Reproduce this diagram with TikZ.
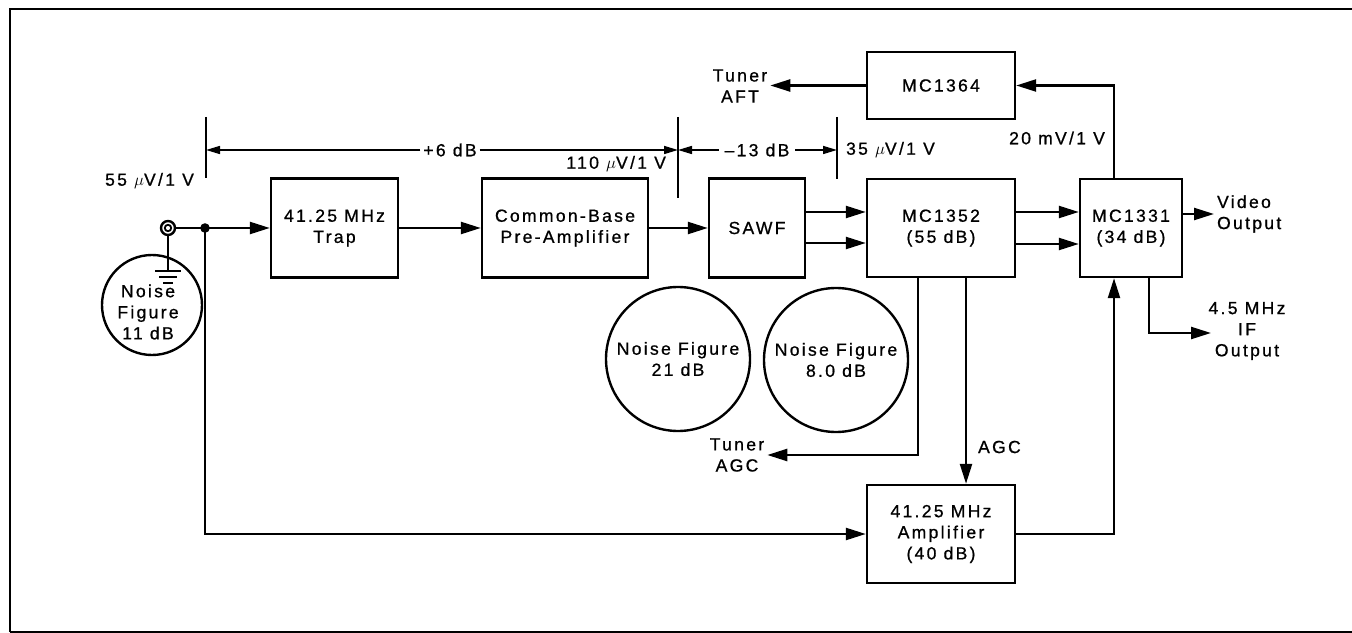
\documentclass[tikz,border=0pt]{standalone}
\usepackage{fontspec}
\setmainfont[LetterSpace=13, FakeBold=0.8]{Liberation Sans}
\usepackage{tikz}
\usetikzlibrary{arrows.meta}

\begin{document}
\begin{tikzpicture}[x=0.25mm, y=-0.25mm,
        font=\fontsize{12.5}{15}\selectfont,
        block/.style={draw, line width=1.7pt, align=center, inner sep=0pt},
        nfcircle/.style={draw, circle, line width=1.7pt, minimum size=36mm, align=center, inner sep=0pt},
        wire/.style={line width=1.7pt},
        sig/.style={line width=1.7pt, -{Triangle[length=5mm, width=3mm]}},
        dim/.style={line width=1.1pt, -{Triangle[length=3.5mm, width=2mm]}},
        dimtick/.style={line width=1.3pt},
        lbl/.style={align=center, inner sep=2pt}]
        \useasboundingbox (0,0) rectangle (1352,633);

        % we draw the frame
        \draw[line width=1.7pt] (10,632) -- (10,9) -- (1352,9);
        \draw[line width=0.8pt] (10,632) -- (1352,632);

        % we draw the blocks
        \node[block, minimum width=31.75mm, minimum height=24.75mm] (trap) at (334.5,228) {41.25 MHz\\Trap};
        \node[block, minimum width=41.5mm, minimum height=24.75mm] (preamp) at (565,228) {Common-Base\\Pre-Amplifier};
        \node[block, minimum width=24mm, minimum height=24.75mm] (sawf) at (757,228) {SAWF};
        \node[block, minimum width=37mm, minimum height=24.5mm] (mcA) at (941,228) {MC1352\\(55 dB)};
        \node[block, minimum width=25.5mm, minimum height=24.5mm] (mcB) at (1131,228) {MC1331\\(34 dB)};
        \node[block, minimum width=37mm, minimum height=16.75mm] (mcC) at (941,85.5) {MC1364};
        \node[block, minimum width=37mm, minimum height=24.5mm] (amp) at (941,534) {41.25 MHz\\Amplifier\\(40 dB)};

        % we draw the noise figures
        \node[nfcircle, minimum size=25mm] (nf11) at (152,305) {};
        \node[lbl] (nf11t) at (148,312) {Noise\\Figure\\11 dB};
        \node[nfcircle] (nf21) at (678,359) {Noise Figure\\21 dB};
        \node[nfcircle] (nf8) at (836,360) {Noise Figure\\8.0 dB};

        % we draw the input jack and its ground
        \node[draw, circle, line width=1.7pt, minimum size=3.5mm, inner sep=0pt] (jack) at (168,228) {};
        \draw[line width=1.3pt] (jack.center) circle[radius=0.8mm];
        \node[circle, fill, inner sep=0pt, minimum size=2.4mm] (jn) at (205,228) {};
        \coordinate (gnd) at (168,271);
        \draw[wire] (jack) -- (gnd);
        \draw[wire] ([shift={(-13,0)}]gnd) -- ([shift={(13,0)}]gnd);
        \draw[wire] ([shift={(-9,6)}]gnd) -- ([shift={(9,6)}]gnd);
        \draw[wire] ([shift={(-5,12)}]gnd) -- ([shift={(5,12)}]gnd);

        % we draw the signal path
        \draw[sig] (jack) -- (trap);
        \draw[sig] (trap) -- (preamp);
        \draw[sig] (preamp) -- (sawf);
        \draw[sig] ([yshift=4mm]sawf.east) -- ([yshift=4mm]mcA.west);
        \draw[sig] ([yshift=-3.75mm]sawf.east) -- ([yshift=-3.75mm]mcA.west);
        \draw[sig] ([yshift=4mm]mcA.east) -- ([yshift=4mm]mcB.west);
        \draw[sig] ([yshift=-4mm]mcA.east) -- ([yshift=-4mm]mcB.west);
        \draw[sig] (jn.center) -- (jn.center |- amp.west) -- (amp.west);
        \draw[sig] (amp.east) -| ([xshift=-4.25mm]mcB.south);

        % we draw the outputs
        \node[lbl, anchor=west, align=left] (video) at (1214,214) {Video\\Output};
        \draw[sig] (mcB.east |- video.west) -- (video.west);
        \node[lbl] (ifout) at (1247,331) {4.5 MHz\\IF\\Output};
        \coordinate (ifend) at (1211,333);
        \draw[sig] ([xshift=4.5mm]mcB.south) |- (ifend);
        \node[lbl, anchor=east] (mv20) at (1108,138) {20 mV/1 V};
        \draw[sig] ([xshift=-4.25mm]mcB.north) |- (mcC.east);
        \node[lbl] (aft) at (740,86) {Tuner\\AFT};
        \draw[sig] (mcC.west) -- (mcC.west -| aft.east);
        \node[lbl] (agct) at (737,455) {Tuner\\AGC};
        \draw[sig] ([xshift=-5.75mm]mcA.south) |- (agct.east);
        \node[lbl, anchor=west] (agc) at (975,447) {AGC};
        \draw[sig] ([xshift=6.25mm]mcA.south) -- ([xshift=6.25mm]amp.north);

        % we draw the level marks
        \coordinate (t1a) at (206,117);
        \coordinate (t1b) at (206,178);
        \coordinate (t2a) at (678,117);
        \coordinate (t2b) at (678,198);
        \coordinate (t3a) at (837,117);
        \coordinate (t3b) at (837,179);
        \draw[dimtick] (t1a) -- (t1b);
        \draw[dimtick] (t2a) -- (t2b);
        \draw[dimtick] (t3a) -- (t3b);
        \node[lbl] (g6) at (450,150) {+6 dB};
        \draw[dim] (g6.west) -- (g6.west -| t1a);
        \draw[dim] (g6.east) -- (g6.east -| t2a);
        \node[lbl, inner sep=4pt] (g13) at (757,150) {–13 dB};
        \draw[dim] (g13.west) -- (g13.west -| t2a);
        \draw[dim] (g13.east) -- (g13.east -| t3a);
        \node[lbl, anchor=east] (v55) at (197,181) {55 $\mu$V/1 V};
        \node[lbl, anchor=east] (v110) at (669,164) {110 $\mu$V/1 V};
        \node[lbl, anchor=west] (v35) at (843,150) {35 $\mu$V/1 V};
    \end{tikzpicture}
\end{document}
